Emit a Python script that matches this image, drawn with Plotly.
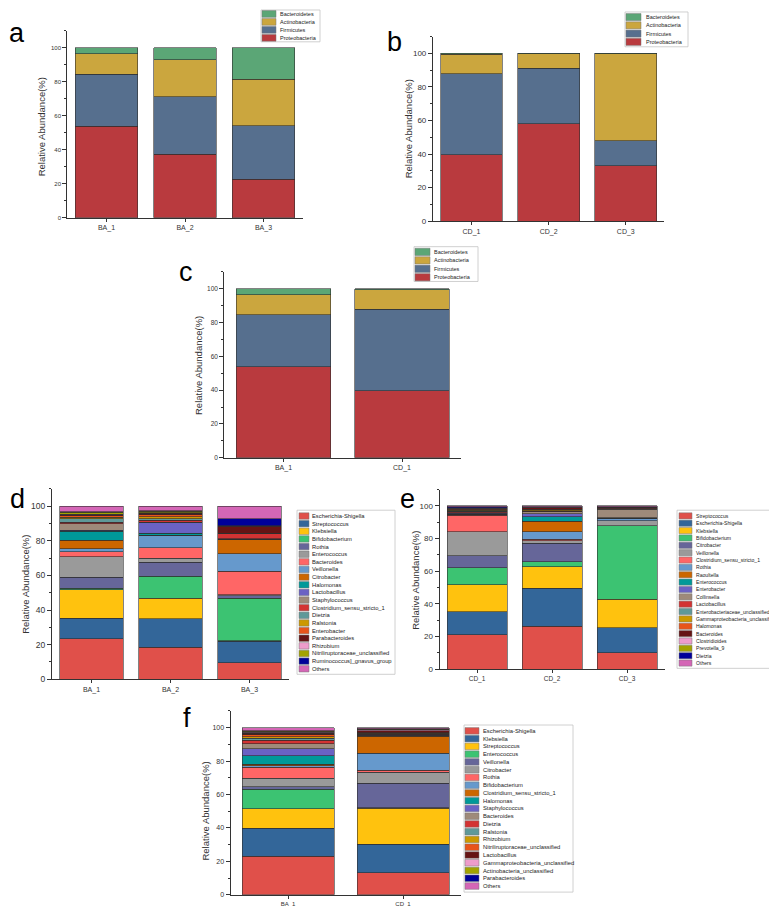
import plotly.graph_objects as go

W, H = 777, 906
FONT = "Arial, Liberation Sans, sans-serif"

# ---------------- data ----------------
phyla = ["Proteobacteria", "Firmicutes", "Actinobacteria", "Bacteroidetes"]  # bottom -> top
phylum_colors = ["#B93A3E", "#566F8E", "#CBA63E", "#5BA676"]

samples_a = ["BA_1", "BA_2", "BA_3"]
BA_1_phylum = [53.8, 30.7, 12.0, 3.5]
BA_2_phylum = [37.3, 33.8, 21.9, 7.0]
BA_3_phylum = [22.7, 31.5, 27.2, 18.6]

samples_b = ["CD_1", "CD_2", "CD_3"]
CD_1_phylum = [39.7, 48.2, 11.5, 0.6]
CD_2_phylum = [58.1, 33.2, 8.5, 0.2]
CD_3_phylum = [33.0, 15.0, 51.9, 0.1]

samples_c = ["BA_1", "CD_1"]

genus_colors = ["#E0504A", "#336699", "#FFC20E", "#3CC372", "#666699", "#9A9A9A",
                "#FF6666", "#6699CC", "#CC6600", "#009999", "#6A62C4", "#9E8A7A",
                "#D33333", "#5F9999", "#CC9900", "#E8541A", "#661414", "#EE9CCB",
                "#A3A300", "#000099", "#D466B6"]

genera_d = ["Escherichia-Shigella", "Streptococcus", "Klebsiella", "Bifidobacterium", "Rothia",
            "Enterococcus", "Bacteroides", "Veillonella", "Citrobacter", "Halomonas",
            "Lactobacillus", "Staphylococcus", "Clostridium_sensu_stricto_1", "Dietzia",
            "Ralstonia", "Enterobacter", "Parabacteroides", "Rhizobium",
            "Nitriliruptoraceae_unclassified", "Ruminococcus]_gnavus_group", "Others"]
d_BA_1 = [23.4, 12.0, 16.3, 1.0, 6.3, 11.7, 2.9, 1.7, 5.0, 5.3, 0.6, 3.6, 1.0, 1.9,
          1.0, 0.7, 0.6, 0.4, 1.0, 0.5, 3.1]
d_BA_2 = [18.6, 16.5, 11.8, 12.5, 8.2, 2.3, 6.2, 7.0, 0.2, 1.0, 6.1, 0.3, 1.2, 0.8,
          1.2, 1.2, 0.8, 0.4, 0.8, 0.4, 2.5]
d_BA_3 = [9.6, 12.4, 0.4, 24.5, 1.5, 0.4, 13.7, 10.0, 8.4, 0.1, 0.1, 0.1, 2.9, 0.1,
          0.1, 0.2, 4.0, 0.1, 0.1, 4.0, 7.3]

genera_e = ["Streptococcus", "Escherichia-Shigella", "Klebsiella", "Bifidobacterium", "Citrobacter",
            "Veillonella", "Clostridium_sensu_stricto_1", "Rothia", "Raoultella", "Enterococcus",
            "Enterobacter", "Collinsella", "Lactobacillus", "Enterobacteriaceae_unclassified",
            "Gammaproteobacteria_unclassified", "Halomonas", "Bacteroides", "Clostridioides",
            "Prevotella_9", "Dietzia", "Others"]
e_CD_1 = [21.3, 13.8, 16.6, 10.6, 7.1, 14.8, 10.0, 0.4, 0.2, 0.2, 0.5, 0.2, 0.8, 0.3,
          0.7, 0.4, 0.4, 0.2, 0.3, 0.6, 0.6]
e_CD_2 = [26.4, 23.3, 13.2, 2.8, 11.4, 1.6, 1.0, 4.5, 6.5, 2.8, 1.8, 1.0, 0.5, 0.4,
          0.4, 0.5, 0.7, 0.3, 0.3, 0.2, 0.4]
e_CD_3 = [10.1, 15.3, 17.6, 44.8, 0.1, 3.0, 0.1, 1.5, 0.1, 0.2, 0.1, 5.0, 0.8, 0.1,
          0.1, 0.1, 0.3, 0.1, 0.1, 0.1, 0.4]

genera_f = ["Escherichia-Shigella", "Klebsiella", "Streptococcus", "Enterococcus", "Veillonella",
            "Citrobacter", "Rothia", "Bifidobacterium", "Clostridium_sensu_stricto_1", "Halomonas",
            "Staphylococcus", "Bacteroides", "Dietzia", "Ralstonia", "Rhizobium",
            "Nitriliruptoraceae_unclassified", "Lactobacillus", "Gammaproteobacteria_unclassified",
            "Actinobacteria_unclassified", "Parabacteroides", "Others"]
f_BA_1 = [23.2, 16.5, 11.7, 11.7, 1.6, 5.1, 6.4, 1.0, 1.0, 4.9, 4.2, 3.0, 2.2, 1.2,
          0.9, 1.2, 1.0, 0.6, 0.4, 0.4, 1.8]
f_CD_1 = [13.3, 16.9, 21.6, 0.3, 14.8, 6.5, 1.0, 10.3, 10.3, 0.3, 0.3, 0.2, 0.4, 0.2,
          0.3, 0.4, 1.2, 0.6, 0.3, 0.2, 0.6]

y_title = "Relative Abundance(%)"

# ---------------- helpers ----------------
def px(x):
    return x / W

def py(y):
    return 1 - y / H

fig = go.Figure()
layout = {}
shapes = []
annotations = []

def setup_axes(idx, xl, xr, y0, y100, n, ytick_size, xtick_size):
    ytop = y0 - 1.1 * (y0 - y100)
    sx = "" if idx == 1 else str(idx)
    layout["xaxis" + sx] = dict(
        domain=[px(xl), px(xr)], anchor="y" + sx, type="category",
        range=[-0.5, n - 0.5], showline=True, linecolor="#333", linewidth=1,
        ticks="outside", ticklen=3, tickcolor="#333", showgrid=False, zeroline=False,
        tickfont=dict(family=FONT, size=xtick_size, color="#333"))
    layout["yaxis" + sx] = dict(
        domain=[py(y0), py(ytop)], anchor="x" + sx, range=[0, 110],
        tickvals=[0, 20, 40, 60, 80, 100], showline=True, linecolor="#333", linewidth=1,
        ticks="outside", ticklen=4, tickcolor="#333", showgrid=False, zeroline=False,
        minor=dict(tickvals=[10, 30, 50, 70, 90, 110], ticks="outside", ticklen=2, tickcolor="#333"),
        tickfont=dict(family=FONT, size=ytick_size, color="#333"))
    return "x" + sx, "y" + sx

def add_stack(xa, ya, cats, per_sample, names, colors):
    for i, name in enumerate(names):
        fig.add_trace(go.Bar(
            x=cats, y=[s[i] for s in per_sample], name=name, xaxis=xa, yaxis=ya,
            marker=dict(color=colors[i], line=dict(color="rgba(45,45,45,0.85)", width=0.7)),
            showlegend=False))

def add_legend(box, names, colors, sw_x, text_x, row_top, row_h, fsize):
    x0, y0, x1, y1 = box
    shapes.append(dict(type="rect", xref="paper", yref="paper",
                       x0=px(x0), x1=px(x1), y0=py(y1), y1=py(y0),
                       line=dict(color="#c4c4c4", width=0.8), fillcolor="white", layer="above"))
    for k, (nm, col) in enumerate(zip(names, colors)):
        t = row_top + k * row_h
        shapes.append(dict(type="rect", xref="paper", yref="paper",
                           x0=px(sw_x[0]), x1=px(sw_x[1]), y0=py(t + row_h - 0.6), y1=py(t + 0.6),
                           line=dict(color="#777", width=0.5), fillcolor=col, layer="above"))
        annotations.append(dict(x=px(text_x), y=py(t + row_h / 2), xref="paper", yref="paper",
                                text=nm, showarrow=False, xanchor="left", yanchor="middle",
                                font=dict(family=FONT, size=fsize, color="#222")))

def add_ytitle(x, ycenter, size=9.5):
    annotations.append(dict(x=px(x), y=py(ycenter), xref="paper", yref="paper", text=y_title,
                            textangle=-90, showarrow=False, xanchor="center", yanchor="middle",
                            font=dict(family=FONT, size=size, color="#333")))

def add_letter(letter, x, y, size=27):
    annotations.append(dict(x=px(x), y=py(y), xref="paper", yref="paper", text=letter,
                            showarrow=False, xanchor="center", yanchor="middle",
                            font=dict(family=FONT, size=size, color="#000")))

# ---------------- panel a ----------------
xa, ya = setup_axes(1, 59.25, 294.75, 211, 40, 3, 6, 7)
add_stack(xa, ya, samples_a, [BA_1_phylum, BA_2_phylum, BA_3_phylum], phyla, phylum_colors)
add_legend((253, 2, 312, 34), phyla[::-1], phylum_colors[::-1], (254, 268), 270, 2, 8, 5.5)
add_ytitle(33, 120)
add_letter("a", 9, 25)

# ---------------- panel b ----------------
xa, ya = setup_axes(2, 424.9, 656.4, 214.3, 45.7, 3, 8, 7)
add_stack(xa, ya, samples_b, [CD_1_phylum, CD_2_phylum, CD_3_phylum], phyla, phylum_colors)
add_legend((617, 4, 680, 39), phyla[::-1], phylum_colors[::-1], (618, 633), 636, 5, 8.3, 5.5)
add_ytitle(400, 122)
add_letter("b", 386, 34)

# ---------------- panel c ----------------
xa, ya = setup_axes(3, 216.25, 453.25, 452.3, 282.3, 2, 6.5, 7)
add_stack(xa, ya, samples_c, [BA_1_phylum, CD_1_phylum], phyla, phylum_colors)
add_legend((406, 240, 470, 275), phyla[::-1], phylum_colors[::-1], (407, 422), 424, 241, 8.5, 5.5)
add_ytitle(190, 360)
add_letter("c", 178, 265)

# ---------------- panel d ----------------
xa, ya = setup_axes(4, 44, 281, 675, 501, 3, 8.5, 7)
add_stack(xa, ya, samples_a, [d_BA_1, d_BA_2, d_BA_3], genera_d, genus_colors)
add_legend((289, 505, 387, 670), genera_d, genus_colors, (291, 301), 302, 507, 7.68, 5.8)
add_ytitle(18, 580)
add_letter("d", 9, 494)

# ---------------- panel e ----------------
xa, ya = setup_axes(5, 431.5, 656.5, 665, 500.7, 3, 8, 6.5)
add_stack(xa, ya, samples_b, [e_CD_1, e_CD_2, e_CD_3], genera_e, genus_colors)
add_legend((669, 505, 776, 664), genera_e, genus_colors, (671, 684), 686, 507, 7.4, 5.1)
add_ytitle(408, 575)
add_letter("e", 399, 494)

# ---------------- panel f ----------------
xa, ya = setup_axes(6, 222.5, 452.5, 891.7, 723.7, 2, 7, 6)
add_stack(xa, ya, samples_c, [f_BA_1, f_CD_1], genera_f, genus_colors)
add_legend((456, 721, 565, 889), genera_f, genus_colors, (457, 471), 473, 723, 7.8, 5.8)
add_ytitle(198, 808)
add_letter("f", 179, 714)

fig.update_layout(
    width=W, height=H, margin=dict(l=0, r=0, t=0, b=0),
    paper_bgcolor="white", plot_bgcolor="white",
    barmode="stack", bargap=0.2, showlegend=False,
    shapes=shapes, annotations=annotations,
    font=dict(family=FONT, color="#333"),
    **layout)

fig.write_html("out.html")
